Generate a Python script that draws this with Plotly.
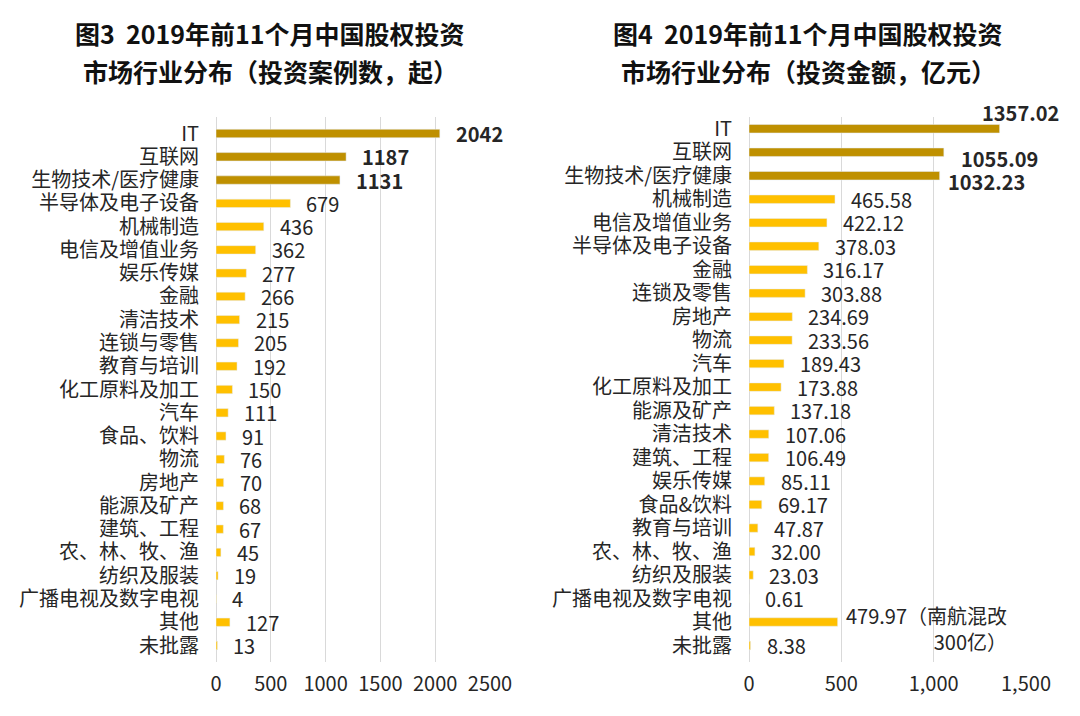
import plotly.graph_objects as go

# ---------------- data ----------------
cats_left = ["IT", "互联网", "生物技术/医疗健康", "半导体及电子设备", "机械制造", "电信及增值业务",
             "娱乐传媒", "金融", "清洁技术", "连锁与零售", "教育与培训", "化工原料及加工", "汽车",
             "食品、饮料", "物流", "房地产", "能源及矿产", "建筑、工程", "农、林、牧、渔",
             "纺织及服装", "广播电视及数字电视", "其他", "未批露"]
vals_left = [2042, 1187, 1131, 679, 436, 362, 277, 266, 215, 205, 192, 150, 111,
             91, 76, 70, 68, 67, 45, 19, 4, 127, 13]

cats_right = ["IT", "互联网", "生物技术/医疗健康", "机械制造", "电信及增值业务", "半导体及电子设备",
              "金融", "连锁及零售", "房地产", "物流", "汽车", "化工原料及加工", "能源及矿产",
              "清洁技术", "建筑、工程", "娱乐传媒", "食品&饮料", "教育与培训", "农、林、牧、渔",
              "纺织及服装", "广播电视及数字电视", "其他", "未批露"]
vals_right = [1357.02, 1055.09, 1032.23, 465.58, 422.12, 378.03, 316.17, 303.88, 234.69,
              233.56, 189.43, 173.88, 137.18, 107.06, 106.49, 85.11, 69.17, 47.87, 32.00,
              23.03, 0.61, 479.97, 8.38]

title_left = ["图3\u00a0 2019年前11个月中国股权投资", "市场行业分布（投资案例数，起）"]
title_right = ["图4\u00a0 2019年前11个月中国股权投资", "市场行业分布（投资金额，亿元）"]
note_other = "（南航混改<br>300亿）"

ticks_left = [0, 500, 1000, 1500, 2000, 2500]
ticks_right = [0, 500, 1000, 1500]
tick_text_right = ["0", "500", "1,000", "1,500"]

# ---------------- style ----------------
DARK = "#BF9000"
LIGHT = "#FFC000"
FONT = "Noto Sans CJK SC"
TXT = "#262626"
GRID = "#D9D9D9"
n_top = 3

colors_left = [DARK if i < n_top else LIGHT for i in range(len(vals_left))]
colors_right = [DARK if i < n_top else LIGHT for i in range(len(vals_right))]

fig = go.Figure()
fig.add_trace(go.Bar(x=vals_left, y=cats_left, orientation="h", marker_color=colors_left,
                     width=0.36, xaxis="x", yaxis="y", hoverinfo="skip", showlegend=False))
fig.add_trace(go.Bar(x=vals_right, y=cats_right, orientation="h", marker_color=colors_right,
                     width=0.36, xaxis="x2", yaxis="y2", hoverinfo="skip", showlegend=False))

annotations = []
# left value labels
for i, (c, v) in enumerate(zip(cats_left, vals_left)):
    txt = f"<b>{v}</b>" if i < n_top else f"{v}"
    annotations.append(dict(x=v, y=c, xref="x", yref="y", text=txt, showarrow=False,
                            xanchor="left", yanchor="middle", xshift=14,
                            font=dict(family=FONT, size=20, color=TXT)))
# right value labels
shifts_right = {0: (-20, 16), 1: (15, -6), 2: (6, -6)}
for i, (c, v) in enumerate(zip(cats_right, vals_right)):
    label = f"{v:.2f}"
    txt = f"<b>{label}</b>" if i < n_top else label
    xs, ys = shifts_right.get(i, (14, 0))
    align = "left"
    if c == "其他":
        txt = label + note_other
        xs, ys = 6, -6
        align = "right"
    annotations.append(dict(x=v, y=c, xref="x2", yref="y2", text=txt, showarrow=False,
                            xanchor="left", yanchor="middle", xshift=xs, yshift=ys,
                            align=align,
                            font=dict(family=FONT, size=20, color=TXT)))

# titles
for cx, lines in ((270 / 1080, title_left), (808 / 1080, title_right)):
    for k, line in enumerate(lines):
        annotations.append(dict(x=cx, y=1 - (33 + 38 * k) / 716, xref="paper", yref="paper",
                                text=f"<b>{line}</b>", showarrow=False,
                                xanchor="center", yanchor="middle",
                                font=dict(family=FONT, size=25, color="#111111")))

ydom = [54 / 716, 599 / 716]
axis_common = dict(showgrid=True, gridcolor=GRID, gridwidth=1, zeroline=True,
                   zerolinecolor=GRID, zerolinewidth=1, showline=False, automargin=False,
                   tickfont=dict(family=FONT, size=20, color=TXT), ticks="",
                   ticklabelstandoff=8, fixedrange=True, tickmode="array")
yaxis_common = dict(type="category", autorange="reversed", showgrid=False, zeroline=False,
                    showline=False, ticks="", tickfont=dict(family=FONT, size=20, color=TXT),
                    ticklabelstandoff=16, fixedrange=True, domain=ydom, automargin=False,
                    tickmode="array")

fig.update_layout(
    width=1080, height=716,
    margin=dict(l=0, r=0, t=0, b=0),
    paper_bgcolor="white", plot_bgcolor="white",
    font=dict(family=FONT, color=TXT),
    bargap=0.6,
    xaxis=dict(domain=[216 / 1080, 490 / 1080], range=[0, 2500], tickvals=ticks_left,
               anchor="y", **axis_common),
    xaxis2=dict(domain=[749 / 1080, 1026 / 1080], range=[0, 1500], tickvals=ticks_right,
                ticktext=tick_text_right, anchor="y2", **axis_common),
    yaxis=dict(anchor="x", categoryorder="array", categoryarray=cats_left,
               tickvals=cats_left, ticktext=cats_left, **yaxis_common),
    yaxis2=dict(anchor="x2", categoryorder="array", categoryarray=cats_right,
                tickvals=cats_right, ticktext=cats_right, **yaxis_common),
    annotations=annotations,
)

fig.write_html("out.html", config={"displayModeBar": False},
               post_script="document.body.style.margin='0';")
